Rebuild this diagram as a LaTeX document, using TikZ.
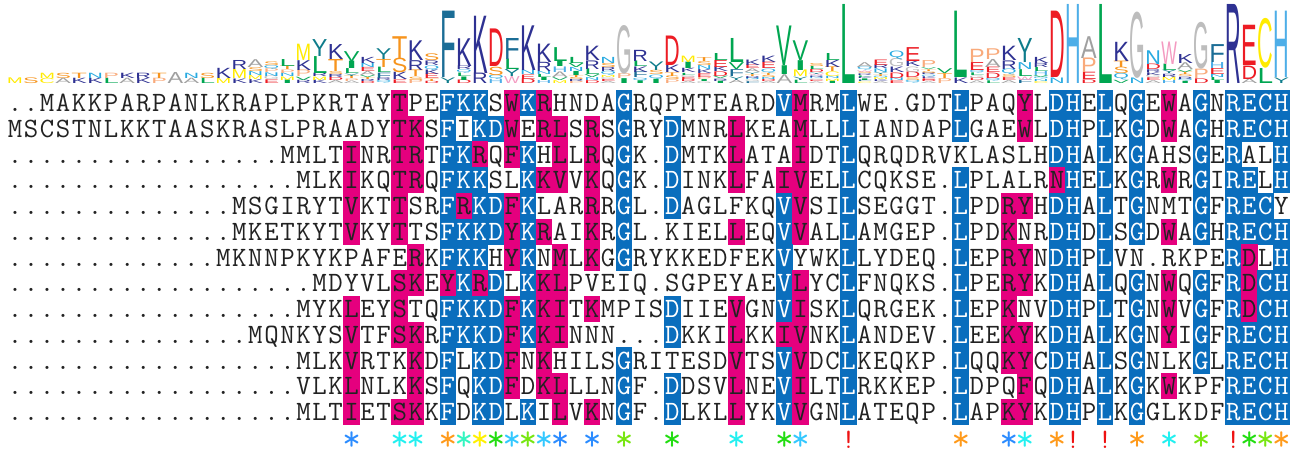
\documentclass[tikz,border=0pt]{standalone}
\usepackage{fontspec}
\usepackage{graphicx}
\newfontfamily\logofont{Liberation Sans}
\newcommand\seqfont{\fontsize{28}{30}\selectfont\ttfamily}
\newcommand\starfont{\fontsize{36}{38}\selectfont\ttfamily}
\definecolor{hlmag}{HTML}{E5007E}
\definecolor{hlblue}{HTML}{0A6EBD}
\definecolor{seqdark}{HTML}{222222}
\definecolor{logoA}{HTML}{A0A0A0}
\definecolor{logoC}{HTML}{FFEB00}
\definecolor{logoD}{HTML}{ED1C24}
\definecolor{logoE}{HTML}{ED1C24}
\definecolor{logoF}{HTML}{1B6D96}
\definecolor{logoG}{HTML}{BDBDBD}
\definecolor{logoH}{HTML}{4DAEE8}
\definecolor{logoI}{HTML}{00A651}
\definecolor{logoK}{HTML}{2E3192}
\definecolor{logoL}{HTML}{00A651}
\definecolor{logoM}{HTML}{FFEB00}
\definecolor{logoN}{HTML}{27AAE1}
\definecolor{logoP}{HTML}{F9AA7B}
\definecolor{logoQ}{HTML}{27AAE1}
\definecolor{logoR}{HTML}{2E3192}
\definecolor{logoS}{HTML}{F7941D}
\definecolor{logoT}{HTML}{F7941D}
\definecolor{logoV}{HTML}{00A651}
\definecolor{logoW}{HTML}{F49AC1}
\definecolor{logoY}{HTML}{0E7C8B}
\definecolor{mkblue}{HTML}{2B8CFF}
\definecolor{mkcyan}{HTML}{22F0F0}
\definecolor{mkorange}{HTML}{FF9A1A}
\definecolor{mkaqua}{HTML}{33F5C0}
\definecolor{mkyellow}{HTML}{FFF000}
\definecolor{mkgreen}{HTML}{22DD11}
\definecolor{mksky}{HTML}{33C8FF}
\definecolor{mkyg}{HTML}{77E611}
\definecolor{mkred}{HTML}{EE1111}
\tikzset{
  seqchar/.style={inner sep=0pt, anchor=base, font=\seqfont},
  magbox/.style={fill=hlmag},
  bluebox/.style={fill=hlblue},
  logoletter/.style={inner sep=0pt, outer sep=0pt, anchor=south west},
  consmark/.style={inner sep=0pt, anchor=center, font=\seqfont},
  consstar/.style={inner sep=0pt, anchor=center, font=\starfont},
}
\newcommand\ConsMark[3]{\node[consstar,text=#3] (cm#1) at ({15+(#1-1)*16.03},441) {#2};}
\newcommand\ConsBang[2]{\node[consmark,text=#2] (cm#1) at ({15+(#1-1)*16.03},439.5) {!};}
\ExplSyntaxOn
\seq_new:N \g_ms_seqs_seq
\seq_new:N \g_ms_hl_seq
\seq_new:N \l_ms_items_seq
\tl_new:N \l_ms_seq_tl
\tl_new:N \l_ms_hl_tl
\tl_new:N \l_ms_coltl
\tl_new:N \l_ms_x_tl
\tl_new:N \l_ms_y_tl
\tl_new:N \l_ms_xa_tl
\tl_new:N \l_ms_xb_tl
\tl_new:N \l_ms_ya_tl
\tl_new:N \l_ms_yb_tl
\tl_new:N \l_ms_yc_tl
\tl_new:N \l_ms_h_tl
\tl_new:N \l_ms_colnum_tl
\int_new:N \l_ms_n_int
\fp_new:N \l_ms_H_fp
\fp_new:N \l_ms_R_fp
\fp_new:N \l_ms_ybot_fp

\cs_new_protected:Npn \ms_add:nnn #1#2#3
  {
    \seq_gput_right:Nx \g_ms_seqs_seq { \prg_replicate:nn {#1} {.} #2 }
    \seq_gput_right:Nn \g_ms_hl_seq {#3}
  }

\cs_new_protected:Npn \ms_cell:nnnnn #1#2#3#4#5
  {
    \tl_set:Nx \l_ms_x_tl { \fp_eval:n { round( 15 + (#3 - 1) * 16.03 , 3) } }
    \int_compare:nNnTF {#1} = {1}
      {
        \tl_set:Nx \l_ms_xa_tl { \fp_eval:n { \l_ms_x_tl - 8.3 } }
        \tl_set:Nx \l_ms_xb_tl { \fp_eval:n { \l_ms_x_tl + 8.3 } }
        \tl_set:Nx \l_ms_ya_tl { \fp_eval:n { \l_ms_y_tl - 13.1 } }
        \tl_set:Nx \l_ms_yb_tl { \fp_eval:n { \l_ms_y_tl + 13.1 } }
        \str_case:nn {#5}
          {
            {m} { \fill[magbox](\l_ms_xa_tl,\l_ms_ya_tl)rectangle(\l_ms_xb_tl,\l_ms_yb_tl); }
            {b} { \fill[bluebox](\l_ms_xa_tl,\l_ms_ya_tl)rectangle(\l_ms_xb_tl,\l_ms_yb_tl); }
          }
      }
      {
        \tl_set:Nx \l_ms_yc_tl { \fp_eval:n { \l_ms_y_tl + 8.5 } }
        \str_if_eq:nnTF {#5} {b}
          { \node[seqchar,text=white,name=r#2c#3]at(\l_ms_x_tl,\l_ms_yc_tl){#4}; }
          { \node[seqchar,text=seqdark,name=r#2c#3]at(\l_ms_x_tl,\l_ms_yc_tl){#4}; }
      }
  }
\cs_generate_variant:Nn \ms_cell:nnnnn {nnnxx}

\cs_new_protected:Npn \ms_pass:n #1
  {
    \int_step_inline:nn {13}
      {
        \tl_set:Nx \l_ms_seq_tl { \seq_item:Nn \g_ms_seqs_seq {##1} }
        \tl_set:Nx \l_ms_hl_tl { \seq_item:Nn \g_ms_hl_seq {##1} }
        \tl_set:Nx \l_ms_y_tl { \fp_eval:n { 103 + (##1 - 1) * 25.75 } }
        \int_step_inline:nn {80}
          {
            \ms_cell:nnnxx {#1} {##1} {####1}
              { \tl_item:Nn \l_ms_seq_tl {####1} }
              { \tl_item:Nn \l_ms_hl_tl {####1} }
          }
      }
  }

\cs_new_protected:Npn \ms_logo_letter:nn #1#2
  {
    \tl_set:Nx \l_ms_h_tl { \fp_eval:n { round( #1 / 13 * \l_ms_R_fp * 79 / (ln(20)/ln(2)) , 3) } }
    \tl_set:Nx \l_ms_y_tl { \fp_eval:n { round( \l_ms_ybot_fp , 3) } }
    \node[logoletter,name=lg\l_ms_colnum_tl #2]at(\l_ms_x_tl,\l_ms_y_tl)
      { \resizebox*{15.6pt}{\l_ms_h_tl pt}{\color{logo#2}\logofont #2} };
    \fp_sub:Nn \l_ms_ybot_fp { \l_ms_h_tl }
  }

\cs_new_protected:Npn \ms_logo_column:n #1
  {
    \tl_set:Nx \l_ms_colnum_tl { #1 }
    \tl_clear:N \l_ms_coltl
    \seq_map_inline:Nn \g_ms_seqs_seq
      { \tl_put_right:Nx \l_ms_coltl { \tl_item:nn {##1} {#1} } }
    \seq_clear:N \l_ms_items_seq
    \fp_zero:N \l_ms_H_fp
    \tl_map_inline:nn {ACDEFGHIKLMNPQRSTVWY}
      {
        \int_zero:N \l_ms_n_int
        \tl_map_inline:Nn \l_ms_coltl
          { \str_if_eq:nnT {####1} {##1} { \int_incr:N \l_ms_n_int } }
        \int_compare:nNnT \l_ms_n_int > 0
          {
            \seq_put_right:Nx \l_ms_items_seq { { \int_use:N \l_ms_n_int } {##1} }
            \fp_sub:Nn \l_ms_H_fp { (\l_ms_n_int / 13) * ln(\l_ms_n_int / 13) / ln(2) }
          }
      }
    \fp_set:Nn \l_ms_R_fp { ln(20) / ln(2) - \l_ms_H_fp }
    \seq_sort:Nn \l_ms_items_seq
      {
        \int_compare:nNnTF { \use_i:nn ##1 } > { \use_i:nn ##2 }
          { \sort_return_swapped: } { \sort_return_same: }
      }
    \fp_set:Nn \l_ms_ybot_fp { 83.5 }
    \tl_set:Nx \l_ms_x_tl { \fp_eval:n { round( 15 + (#1 - 1) * 16.03 - 7.8 , 3) } }
    \seq_map_inline:Nn \l_ms_items_seq
      { \ms_logo_letter:nn ##1 }
  }

\NewDocumentCommand \DrawBoxes {} { \ms_pass:n {1} }
\NewDocumentCommand \DrawSeqText {} { \ms_pass:n {2} }
\NewDocumentCommand \DrawLogo {} { \int_step_inline:nn {80} { \ms_logo_column:n {##1} } }

% ---- alignment data: leading gaps, residues, highlight codes (m = magenta, b = blue)
\ms_add:nnn {0}
  {..MAKKPARP ANLKRAPLPK RTAYTPEFKK SWKRHNDAGR QPMTEARDVM RMLWE.GDTL PAQYLDHELQ GEWAGNRECH}
  {.......... .......... ....m..bbb .mbm....b. ........bm ..b......b ...m.bb.b. b.m.b.bbbb}
\ms_add:nnn {0}
  {MSCSTNLKKT AASKRASLPR AADYTKSFIK DWERLSRSGR YDMNRLKEAM LLLIANDAPL GAEWLDHPLK GDWAGHRECH}
  {.......... .......... ....mm.b.b bm.mm.m.b. .b...m...m ..b......b ...m.bb.b. b.m.b.bbbb}
\ms_add:nnn {17}
  {MMLTINRTRT FKRQFKHLLRQG K.DMTKLATAIDTL QRQDRV KLASLHDHALKGAHSGERALH}
  {.......... .......... .m..mm.bbm .mb.m.m.b. .b...m...m ..b....... .....bb.b. b...b.b..b}
\ms_add:nnn {18}
  {MLKIKQTRQ FKKSLKKVVKQG K.DINKLFAIVELL CQKSE. LPLALRNHELKGRWRGIRELH}
  {.......... .......... .m..mm.bbb ..bmm.m.b. .b...m..mm ..b......b .....mb.b. b.m.b.bb.b}
\ms_add:nnn {14}
  {MSGIRYTVKTTSR FRKDFKLARRRG L.DAGLFKQVVSIL SEGGT. LPDRYHDHALTGNMTGFRECY}
  {.......... .......... .m..m..bmb bmb...m.b. .b......bm ..b......b ..mm.bb.b. b...b.bbb.}
\ms_add:nnn {14}
  {MKETKYTVKYTTS FKKDYKRAIKRG L.KIELLEQVVALL AMGEP. LPDKNRDHDLSGDWAGHRECH}
  {.......... .......... .m..m..bbb bmbm..m.b. .....m..bm ..b......b ..m..bb.b. b.m.b.bbbb}
\ms_add:nnn {13}
  {MKNNPKYKPAFERK FKKHYKNMLKGG RYKKEDFEKVYWKL LYDEQ. LEPRYNDHPLVN.RKPERDLH}
  {.......... .......... .....m.bbb .mb.m.m.b. ........b. ..b......b ..mm.bb.b. ......bm.b}
\ms_add:nnn {19}
  {MDYVLSKE YKRDLKKLPVEI Q.SGPEYAEVLYCL FNQKS. LPERYKDHALQGNWQGFRDCH}
  {.......... .......... ....mm.mbm b.bmm..... ........bm ..b......b ..mm.bb.b. b.m.b.bmbb}
\ms_add:nnn {18}
  {MYKLEYSTQ FKKDFKKITKMP ISDIIEVGNVISKL QRGEK. LEPKNVDHPLTGNWVGFRDCH}
  {.......... .......... .m..m..bbb bmbmm.m... .b...m..bm ..b......b ..m..bb.b. b.m.b.bmbb}
\ms_add:nnn {15}
  {MQNKYSVTFSKR FKKDFKKINNN. ..DKKILKKIVNKL ANDEV. LEEKYKDHALKGNYIGFRECH}
  {.......... .......... .m..mm.bbb bmbmm..... .b...m..mm ..b......b ..mm.bb.b. b.m.b.bbbb}
\ms_add:nnn {18}
  {MLKVRTKKD FLKDFNKHILSG RITESDVTSVVDCL KEQKP. LQQKYCDHALSGNLKGLRECH}
  {.......... .......... .m...m.b.b bm.m....b. .....m..bm ..b......b ..mm.bb.b. b...b.bbbb}
\ms_add:nnn {18}
  {VLKLNLKKS FQKDFDKLLLNG F.DDSVLNEVILTL RKKEP. LDPQFQDHALKGKWKPFRECH}
  {.......... .......... .m...m.b.b bm.mm...b. .b...m..bm ..b......b ...m.bb.b. b.m...bbbb}
\ms_add:nnn {18}
  {MLTIETSKK FDKDLKILVKNG F.DLKLLYKVVGNL ATEQP. LAPKYKDHPLKGGLKDFRECH}
  {.......... .......... .m..mm.b.b b.b.m.m.b. .b...m..bm ..b......b ..mm.bb.b. b.....bbbb}
\ExplSyntaxOff

\begin{document}
\begin{tikzpicture}[x=1pt,y=-1pt]
\useasboundingbox (0,0) rectangle (1294,451);
\fill[white] (0,0) rectangle (1294,451);
\DrawLogo
\DrawBoxes
\DrawSeqText
\ConsMark{22}{*}{mkblue}
\ConsMark{25}{*}{mkcyan}
\ConsMark{26}{*}{mkcyan}
\ConsMark{28}{*}{mkorange}
\ConsMark{29}{*}{mkaqua}
\ConsMark{30}{*}{mkyellow}
\ConsMark{31}{*}{mkgreen}
\ConsMark{32}{*}{mksky}
\ConsMark{33}{*}{mkyg}
\ConsMark{34}{*}{mksky}
\ConsMark{35}{*}{mkblue}
\ConsMark{37}{*}{mkblue}
\ConsMark{39}{*}{mkyg}
\ConsMark{42}{*}{mkgreen}
\ConsMark{46}{*}{mkcyan}
\ConsMark{49}{*}{mkgreen}
\ConsMark{50}{*}{mksky}
\ConsBang{53}{mkred}
\ConsMark{60}{*}{mkorange}
\ConsMark{63}{*}{mkblue}
\ConsMark{64}{*}{mkcyan}
\ConsMark{66}{*}{mkorange}
\ConsBang{67}{mkred}
\ConsBang{69}{mkred}
\ConsMark{71}{*}{mkorange}
\ConsMark{73}{*}{mkcyan}
\ConsMark{75}{*}{mkyg}
\ConsBang{77}{mkred}
\ConsMark{78}{*}{mkgreen}
\ConsMark{79}{*}{mkyg}
\ConsMark{80}{*}{mkorange}
\end{tikzpicture}
\end{document}
